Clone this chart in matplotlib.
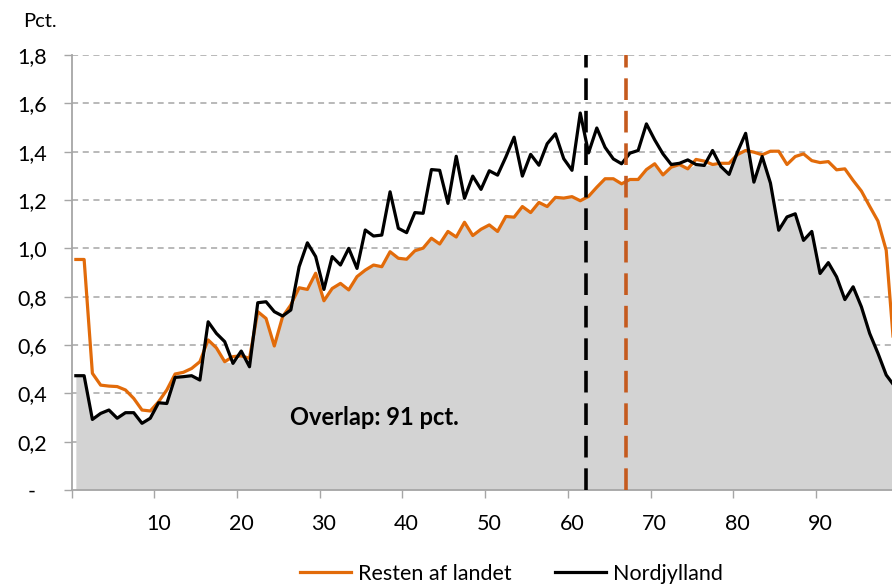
import matplotlib.pyplot as plt
import numpy as np

plt.rcParams['font.family'] = ['Lato', 'DejaVu Sans']

# alder 0-99, andel i pct.
alder = np.arange(0, 100)

resten = [0.954, 0.954, 0.483, 0.434, 0.430, 0.428, 0.414, 0.379, 0.331, 0.327,
          0.365, 0.414, 0.480, 0.487, 0.503, 0.531, 0.621, 0.588, 0.531, 0.552,
          0.555, 0.545, 0.738, 0.710, 0.596, 0.717, 0.766, 0.837, 0.830, 0.897,
          0.783, 0.834, 0.855, 0.828, 0.883, 0.910, 0.931, 0.924, 0.986, 0.959,
          0.955, 0.990, 1.001, 1.042, 1.018, 1.070, 1.047, 1.108, 1.053, 1.079,
          1.097, 1.070, 1.132, 1.129, 1.173, 1.148, 1.190, 1.173, 1.211, 1.208,
          1.214, 1.197, 1.215, 1.253, 1.288, 1.288, 1.267, 1.285, 1.285, 1.326,
          1.350, 1.304, 1.336, 1.347, 1.329, 1.368, 1.361, 1.347, 1.352, 1.352,
          1.388, 1.405, 1.398, 1.387, 1.402, 1.402, 1.347, 1.380, 1.391, 1.363,
          1.355, 1.359, 1.325, 1.329, 1.281, 1.237, 1.174, 1.113, 0.992, 0.560]

nordjylland = [0.473, 0.473, 0.292, 0.317, 0.331, 0.297, 0.320, 0.320, 0.276, 0.297,
               0.361, 0.358, 0.466, 0.469, 0.473, 0.455, 0.696, 0.648, 0.614, 0.524,
               0.575, 0.510, 0.775, 0.779, 0.738, 0.720, 0.745, 0.924, 1.023, 0.966,
               0.830, 0.966, 0.931, 1.000, 0.917, 1.076, 1.051, 1.055, 1.234, 1.083,
               1.065, 1.148, 1.145, 1.326, 1.323, 1.186, 1.381, 1.207, 1.299, 1.244,
               1.321, 1.303, 1.378, 1.460, 1.299, 1.389, 1.344, 1.433, 1.474, 1.371,
               1.323, 1.560, 1.395, 1.498, 1.418, 1.370, 1.350, 1.394, 1.405, 1.515,
               1.449, 1.391, 1.347, 1.352, 1.366, 1.347, 1.343, 1.405, 1.339, 1.306,
               1.398, 1.476, 1.274, 1.380, 1.270, 1.075, 1.130, 1.143, 1.033, 1.070,
               0.896, 0.941, 0.882, 0.788, 0.841, 0.758, 0.648, 0.566, 0.476, 0.430]

# gennemsnitsalder (lodrette streger)
gns_nord = 61.7
gns_resten = 66.5

y_ticks = [0, 0.2, 0.4, 0.6, 0.8, 1.0, 1.2, 1.4, 1.6, 1.8]
y_labels = ['-  ', '0,2', '0,4', '0,6', '0,8', '1,0', '1,2', '1,4', '1,6', '1,8']
x_labels = [10, 20, 30, 40, 50, 60, 70, 80, 90]

orange = '#E26B0A'
orange_dash = '#C55A1E'
grid_col = '#A6A6A6'

fig = plt.figure(figsize=(8.92, 5.86), dpi=100)
ax = fig.add_axes([0.0804, 0.1638, 1 - 0.0804, 0.9061 - 0.1638])

overlap = np.minimum(resten, nordjylland)
ax.fill_between(alder, 0, overlap, color='#D3D3D3', lw=0, zorder=1)

for y in y_ticks[1:]:
    ax.axhline(y, color=grid_col, lw=1.1, ls=(0, (4, 3)), zorder=0.5)

ax.plot(alder, resten, color=orange, lw=2.3, label='Resten af landet', zorder=3)
ax.plot(alder, nordjylland, color='black', lw=2.3, label='Nordjylland', zorder=4)

ax.plot([gns_nord, gns_nord], [0, 1.8], color='black', lw=2.6, ls=(0, (6, 3)), zorder=5)
ax.plot([gns_resten, gns_resten], [0, 1.8], color=orange_dash, lw=2.6, ls=(0, (6, 3)), zorder=5)

ax.text(25.9, 0.30, 'Overlap: 91 pct.', fontsize=17, fontweight='bold', va='center', ha='left')

ax.set_xlim(-0.5, 98.7)
ax.set_ylim(0, 1.8)

ax.set_yticks(y_ticks)
ax.set_yticklabels(y_labels)
ax.tick_params(axis='y', length=6, width=1, color=grid_col, pad=12, labelsize=15.5)

ax.set_xticks(np.arange(-0.5, 90, 10))
ax.set_xticklabels([])
ax.set_xticks(x_labels, minor=True)
ax.set_xticklabels([str(v) for v in x_labels], minor=True)
ax.tick_params(axis='x', which='major', length=6, width=1, color=grid_col)
ax.tick_params(axis='x', which='minor', length=0, pad=17, labelsize=15.5)

for s in ['top', 'right']:
    ax.spines[s].set_visible(False)
for s in ['left', 'bottom']:
    ax.spines[s].set_color(grid_col)
    ax.spines[s].set_linewidth(1.3)

fig.text(0.026, 0.964, 'Pct.', fontsize=14.5, va='center', ha='left')

fig.legend(loc='center', bbox_to_anchor=(0.573, 0.021), ncol=2, frameon=False,
           fontsize=15.5, handlelength=2.4, handletextpad=0.3, columnspacing=2.0)

fig.savefig('out.png', dpi=100)
